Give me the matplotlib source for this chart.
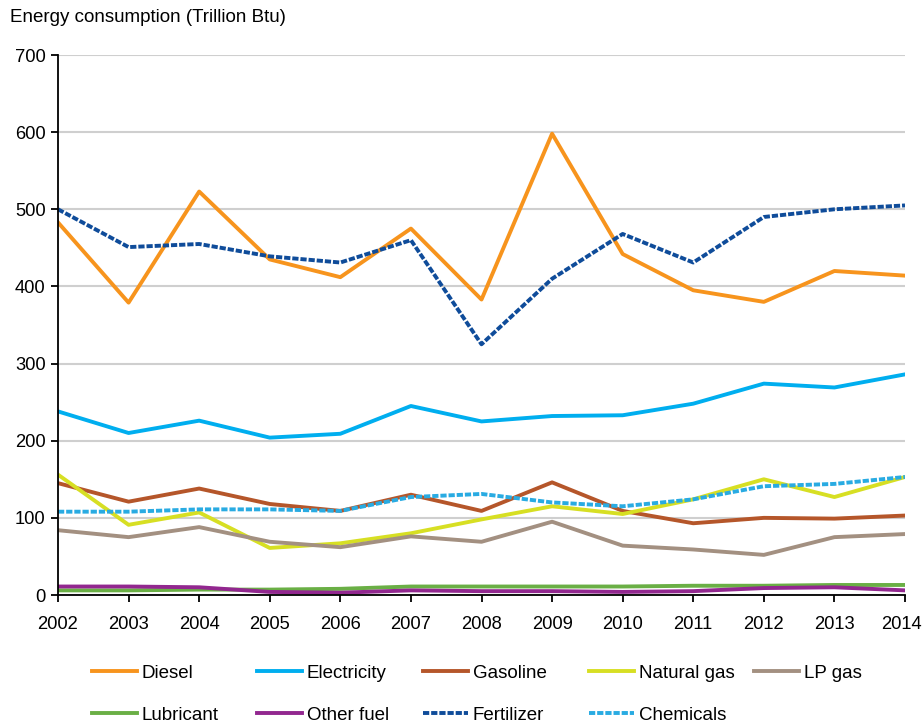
import matplotlib
matplotlib.use("Agg")
import matplotlib.pyplot as plt
import matplotlib.transforms as mtransforms

plt.rcParams['font.family'] = ['Liberation Sans', 'DejaVu Sans']

years = list(range(2002, 2015))

diesel = [483, 379, 523, 435, 412, 475, 383, 598, 442, 395, 380, 420, 414]
electricity = [238, 210, 226, 204, 209, 245, 225, 232, 233, 248, 274, 269, 286]
gasoline = [145, 121, 138, 118, 109, 130, 109, 146, 109, 93, 100, 99, 103]
natural_gas = [156, 91, 107, 61, 67, 80, 98, 115, 105, 124, 150, 127, 153]
lp_gas = [84, 75, 88, 69, 62, 76, 69, 95, 64, 59, 52, 75, 79]
lubricant = [6, 6, 7, 7, 8, 11, 11, 11, 11, 12, 12, 13, 13]
other_fuel = [11, 11, 10, 4, 3, 6, 5, 5, 4, 5, 9, 10, 6]
fertilizer = [500, 451, 455, 439, 431, 460, 325, 410, 468, 431, 490, 500, 505]
chemicals = [108, 108, 111, 111, 109, 127, 131, 120, 115, 124, 141, 144, 153]

series = [
    ("Diesel", diesel, "#F7941D", False),
    ("Electricity", electricity, "#00AEEF", False),
    ("Gasoline", gasoline, "#B5562A", False),
    ("Natural gas", natural_gas, "#D7DF23", False),
    ("LP gas", lp_gas, "#A39081", False),
    ("Lubricant", lubricant, "#6AAF45", False),
    ("Other fuel", other_fuel, "#92278F", False),
    ("Fertilizer", fertilizer, "#0F4C9A", True),
    ("Chemicals", chemicals, "#29ABE2", True),
]

fig = plt.figure(figsize=(9.24, 7.24), dpi=100)
ax = fig.add_axes([58/924, 1-595/724, (905-58)/924, (595-55)/724])

handles = []
for name, vals, col, dashed in series:
    if dashed:
        ln, = ax.plot(years, vals, color=col, lw=2.8, dashes=(1.6, 0.5),
                      label=name)
    else:
        ln, = ax.plot(years, vals, color=col, lw=2.8, label=name)
    handles.append(ln)

ax.set_xlim(2002, 2014)
ax.set_ylim(0, 700)
ax.set_xticks(years)
ax.set_yticks(range(0, 701, 100))
ax.yaxis.grid(True, color='#CFCFCF', lw=1.5)
ax.set_axisbelow(True)
for s in ['top', 'right']:
    ax.spines[s].set_visible(False)
for s in ['left', 'bottom']:
    ax.spines[s].set_linewidth(1.3)
ax.tick_params(axis='both', direction='out', length=5, width=1.3,
               labelsize=13.2, pad=4)
ax.tick_params(axis='x', pad=10)

# keep the last year label inside the figure
last = ax.get_xticklabels()[-1]
last.set_transform(last.get_transform() +
                   mtransforms.ScaledTranslation(-4/100, 0, fig.dpi_scale_trans))

fig.text(10/924, 1-18/724, "Energy consumption (Trillion Btu)",
         fontsize=13.5, va='center', ha='left')

# legend: 5 evenly spaced columns, 2 rows
col_x = [92, 257, 423, 589, 754]
row_y = [673, 715]
for i, ln in enumerate(handles):
    r, c = divmod(i, 5)
    fig.legend([ln], [ln.get_label()], loc='center left',
               bbox_to_anchor=(col_x[c] / 924, 1 - row_y[r] / 724),
               frameon=False, fontsize=13.5, handlelength=2.4,
               handletextpad=0.25, borderpad=0, borderaxespad=0)

fig.savefig("out.png", dpi=100)
